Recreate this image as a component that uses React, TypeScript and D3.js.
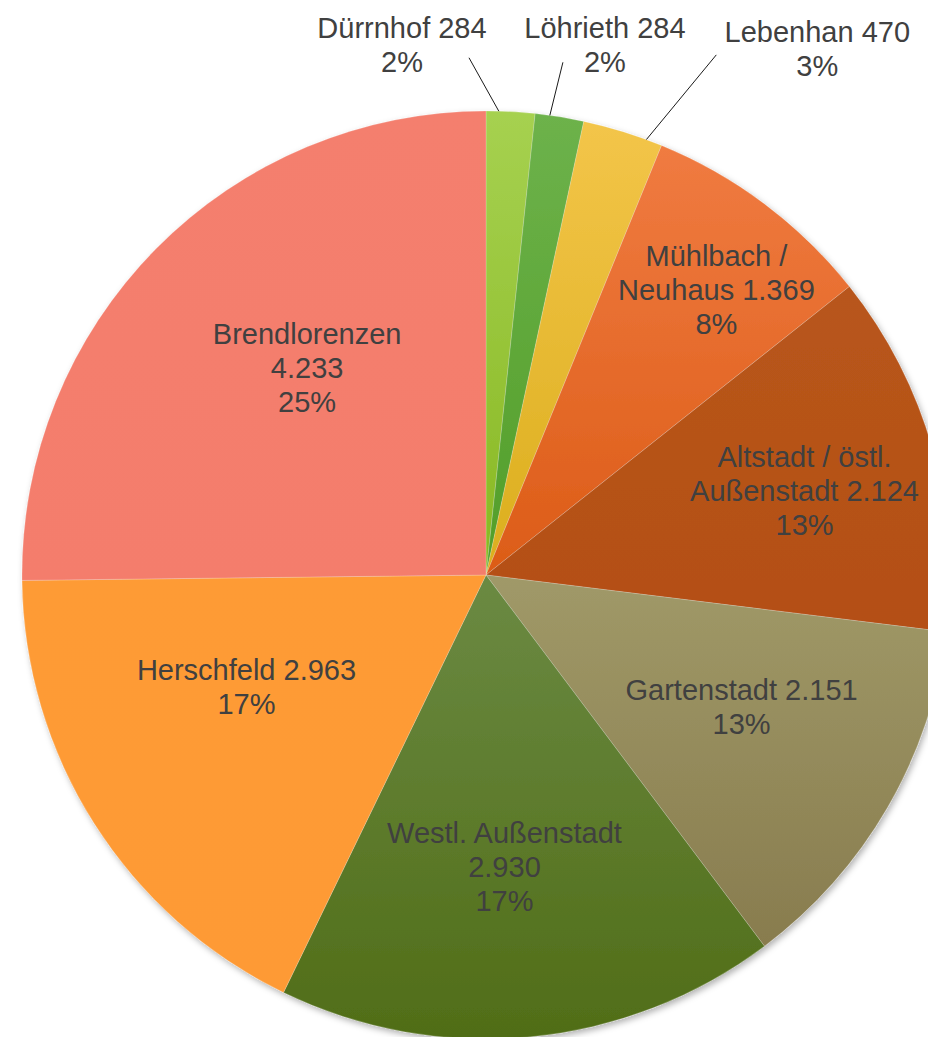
import React from "react";
import * as d3 from "d3";

// Einwohner nach Stadtteil (clockwise from 12 o'clock)
const districts = [
  "Dürrnhof",
  "Löhrieth",
  "Lebenhan",
  "Mühlbach /\nNeuhaus",
  "Altstadt / östl.\nAußenstadt",
  "Gartenstadt",
  "Westl. Außenstadt\n",
  "Herschfeld",
  "Brendlorenzen\n",
];
const residents = [284, 284, 470, 1369, 2124, 2151, 2930, 2963, 4233];
const percentLabels = ["2%", "2%", "3%", "8%", "13%", "13%", "17%", "17%", "25%"];

// gradient top / bottom colours per slice
const colorsTop = ["#a6d150", "#6db24b", "#f3c549", "#f07b41", "#b8561b", "#a09968", "#6b8a43", "#fe9b36", "#f47f6e"];
const colorsBottom = ["#88b822", "#529e28", "#dbae1d", "#dc5c17", "#b44f15", "#887c4e", "#506d17", "#fe9a34", "#f47d6c"];

// label layout: [radius fraction, position inside the slice's angle span]
const labelLayout = [
  [1.157, -1.48],
  [1.17, 1.08],
  [1.34, 1.99],
  [0.79, 0.57],
  [0.71, 0.52],
  [0.62, 0.44],
  [0.63, 0.53],
  [0.57, 0.615],
  [0.59, 0.55],
];
// leader lines for the outside labels: [dx, dy from label centre, fraction of slice span at pie edge]
const leaderLayout: (number[] | null)[] = [
  [67, 13, 0.26],
  [-42, 17, 0.3],
  [-101, 6, 0.8],
  null, null, null, null, null, null,
];

const W = 928;
const H = 1037;
const cx = 486;
const cy = 575;
const R = 464;
const lineH = 34;

const de = d3.formatLocale({ decimal: ",", thousands: ".", grouping: [3], currency: ["", " €"] });
const fmt = de.format(",d");

export default function App() {
  const pie = d3.pie<number>().sort(null).value((d) => d).startAngle(0).endAngle(2 * Math.PI);
  const arcs = pie(residents);
  const arc = d3.arc<d3.PieArcDatum<number>>().innerRadius(0).outerRadius(R);

  const labelLines = (i: number) => {
    const parts = districts[i].split("\n");
    const last = parts.length - 1;
    if (parts[last] === "") parts[last] = fmt(residents[i]);
    else parts[last] = `${parts[last]} ${fmt(residents[i])}`;
    return [...parts, percentLabels[i]];
  };

  const polar = (a: number, r: number) => [Math.sin(a) * r, -Math.cos(a) * r];

  return (
    <svg
      width={W}
      height={H}
      style={{ position: "absolute", left: 0, top: 0, background: "#fff" }}
      fontFamily="'Liberation Sans', Arial, sans-serif"
    >
      <defs>
        {arcs.map((_, i) => (
          <linearGradient key={i} id={`g${i}`} x1="0" y1="0" x2="0" y2="1">
            <stop offset="0" stopColor={colorsTop[i]} />
            <stop offset="1" stopColor={colorsBottom[i]} />
          </linearGradient>
        ))}
        <filter id="shadow" x="-10%" y="-10%" width="120%" height="120%">
          <feDropShadow dx="2" dy="3" stdDeviation="3" floodColor="#000" floodOpacity="0.3" />
        </filter>
      </defs>
      <g transform={`translate(${cx},${cy})`}>
        <g filter="url(#shadow)">
          {arcs.map((a, i) => (
            <path key={i} d={arc(a) || ""} fill={`url(#g${i})`} stroke="#ffffff" strokeOpacity={0.2} strokeWidth={1} />
          ))}
        </g>
        {arcs.map((a, i) => {
          const lead = leaderLayout[i];
          if (!lead) return null;
          const [k, f] = labelLayout[i];
          const ang = a.startAngle + f * (a.endAngle - a.startAngle);
          const [lx, ly] = polar(ang, R * k);
          const endAng = a.startAngle + lead[2] * (a.endAngle - a.startAngle);
          const [ex, ey] = polar(endAng, R);
          return (
            <line key={`l${i}`} x1={lx + lead[0]} y1={ly + lead[1]} x2={ex} y2={ey} stroke="#000" strokeWidth={0.9} />
          );
        })}
        {arcs.map((a, i) => {
          const [k, f] = labelLayout[i];
          const ang = a.startAngle + f * (a.endAngle - a.startAngle);
          const [x, y] = polar(ang, R * k);
          const lines = labelLines(i);
          const n = lines.length;
          return (
            <text key={`t${i}`} x={x} y={y} textAnchor="middle" fontSize={29} fill="#404040">
              {lines.map((s, j) => (
                <tspan key={j} x={x} y={y + (j - (n - 1) / 2) * lineH} dominantBaseline="central">
                  {s}
                </tspan>
              ))}
            </text>
          );
        })}
      </g>
    </svg>
  );
}
